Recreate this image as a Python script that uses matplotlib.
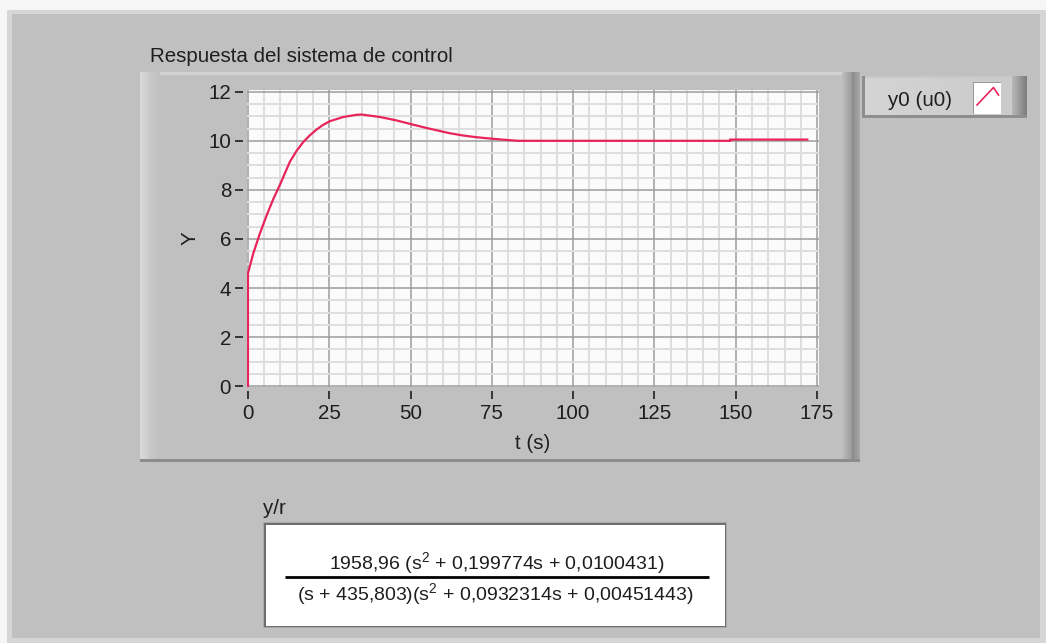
import numpy as np
import matplotlib
matplotlib.use("Agg")
import matplotlib.pyplot as plt
from matplotlib.patches import Rectangle
from matplotlib.ticker import MultipleLocator

plt.rcParams['font.family'] = ['Liberation Sans', 'DejaVu Sans']
plt.rcParams['mathtext.fontset'] = 'custom'
plt.rcParams['mathtext.rm'] = 'Liberation Sans'
plt.rcParams['mathtext.it'] = 'Liberation Sans'

# Step response of the closed loop y/r
t_s = [0.0, 0.0, 1.6, 3.6, 5.7, 7.7, 9.8, 12.9, 15.0, 17.0, 19.0, 21.0, 23.0,
       25.2, 29.3, 33.4, 35.0, 40.6, 45.7, 49.8, 55.0, 62.0, 66.0, 70.0,
       75.4, 83.0, 148.3, 148.3, 172.0]
y_resp = [0.0, 4.6, 5.4, 6.2, 6.95, 7.6, 8.2, 9.15, 9.6, 9.95, 10.22, 10.45,
          10.64, 10.8, 10.97, 11.06, 11.07, 10.97, 10.83, 10.69, 10.52, 10.31,
          10.22, 10.15, 10.08, 10.0, 10.0, 10.05, 10.05]

x_major = [0, 25, 50, 75, 100, 125, 150, 175]
y_major = [0, 2, 4, 6, 8, 10, 12]

title = "Respuesta del sistema de control"
x_label = "t (s)"
y_label = "Y"
legend_label = "y0 (u0)"
tf_name = "y/r"
tf_num = r"1958,96 (s$^2$ + 0,199774s + 0,0100431)"
tf_den = r"(s + 435,803)(s$^2$ + 0,0932314s + 0,00451443)"

W, H = 1046, 643
PANEL = "#c0c0c0"
TXT = "#1e1e1e"
LINE = "#e8245a"
FS = 14.8
FS_TF = 14.0

fig = plt.figure(figsize=(W / 100, H / 100), dpi=100)
fig.patch.set_facecolor("#f6f6f6")

# Panel drawn in pixel coordinates
bg = fig.add_axes([0, 0, 1, 1])
bg.set_xlim(0, W)
bg.set_ylim(H, 0)
bg.axis("off")


def rect(x0, y0, x1, y1, color, z=1, **kw):
    bg.add_patch(Rectangle((x0, y0), x1 - x0, y1 - y0, facecolor=color,
                           edgecolor="none", zorder=z, **kw))


def hgrad(x0, x1, y0, y1, c0, c1, z=2):
    g = np.linspace(0, 1, 64)[None, :, None]
    a = np.array(matplotlib.colors.to_rgb(c0))[None, None, :]
    b = np.array(matplotlib.colors.to_rgb(c1))[None, None, :]
    img = a * (1 - g) + b * g
    bg.imshow(img, extent=(x0, x1, y1, y0), aspect="auto", zorder=z,
              interpolation="bilinear")


# outer panel
rect(7, 10, W, H, "#d6d6d6", z=0.5)
rect(12, 14, W - 6, H - 5, PANEL, z=0.6)

# graph frame with bevels
rect(140, 72, 860, 462, PANEL, z=1)
rect(140, 72, 860, 75, "#d2d2d2", z=1.2)
hgrad(140, 148, 72, 462, "#d8d8d8", "#cfcfcf")
hgrad(148, 160, 72, 462, "#cbcbcb", PANEL)
hgrad(842, 852, 72, 462, PANEL, "#9a9a9a")
hgrad(852, 860, 72, 462, "#8a8a8a", "#a8a8a8")
rect(140, 459, 860, 462, "#8c8c8c", z=2.5)

# legend box
rect(862, 76, 1027, 118, "#c8c8c8", z=1)
hgrad(864, 1012, 78, 116, "#d4d4d4", "#cbcbcb")
hgrad(1012, 1027, 76, 118, "#b8b8b8", "#7c7c7c")
rect(862, 76, 865, 118, "#8e8e8e", z=2.5)
rect(862, 115, 1027, 118, "#8e8e8e", z=2.5)
rect(973, 82, 1001, 114, "#9a9a9a", z=3)
rect(974, 83, 1001, 114, "white", z=3.1)
bg.plot([977, 993.5, 998.5], [105, 87.5, 95], color=LINE, lw=1.2, zorder=4)
bg.text(920, 100, legend_label, ha="center", va="center", fontsize=FS,
        color=TXT, zorder=5)

# transfer function display
bg.text(263, 509, tf_name, ha="left", va="center", fontsize=FS, color=TXT)
rect(263, 522, 727, 628, "#a8a8a8", z=1)
rect(264, 523, 726, 627, "#6e6e6e", z=1.1)
rect(266, 525, 725, 626, "white", z=1.2)
bg.plot([285, 709], [577, 577], color="black", lw=2.0, zorder=3,
        solid_capstyle="butt")
bg.text(497, 563, tf_num, ha="center", va="center", fontsize=FS_TF,
        color=TXT, zorder=4)
bg.text(495.5, 594, tf_den, ha="center", va="center", fontsize=FS_TF,
        color=TXT, zorder=4)

# chart title
bg.text(150, 56, title, ha="left", va="center", fontsize=FS, color=TXT)

# plot area
x0p, x1p, y0p, y1p = 247, 819, 90, 387
ax = fig.add_axes([x0p / W, 1 - y1p / H, (x1p - x0p) / W, (y1p - y0p) / H])
ax.set_facecolor("#fbfbfb")
ax.plot(t_s, y_resp, color=LINE, lw=1.6, zorder=5, solid_joinstyle="miter")
ax.set_xlim(-0.3, 175.6)
ax.set_ylim(-0.03, 12.07)

ax.xaxis.set_major_locator(MultipleLocator(25))
ax.xaxis.set_minor_locator(MultipleLocator(5))
ax.yaxis.set_major_locator(MultipleLocator(2))
ax.yaxis.set_minor_locator(MultipleLocator(0.5))
ax.set_xticks(x_major)
ax.set_yticks(y_major)
ax.grid(which="minor", color="#dedede", lw=1.4, zorder=1)
ax.grid(which="major", color="#9c9c9c", lw=1.1, zorder=2)
ax.set_axisbelow(True)

for side in ("top", "right", "left", "bottom"):
    ax.spines[side].set_visible(False)
ax.spines["left"].set_position(("outward", 3))
ax.spines["bottom"].set_position(("outward", 3))

ax.tick_params(which="major", direction="out", length=5.5, width=1.3,
               color="#2a2a2a", labelsize=FS, labelcolor=TXT, pad=3)
ax.tick_params(axis="x", which="major", pad=4)
ax.tick_params(which="minor", length=0)

ax.set_xlabel(x_label, fontsize=FS, color=TXT, labelpad=8)
ax.set_ylabel(y_label, fontsize=FS, color=TXT, labelpad=6)

fig.savefig("out.png", dpi=100, facecolor=fig.get_facecolor())
